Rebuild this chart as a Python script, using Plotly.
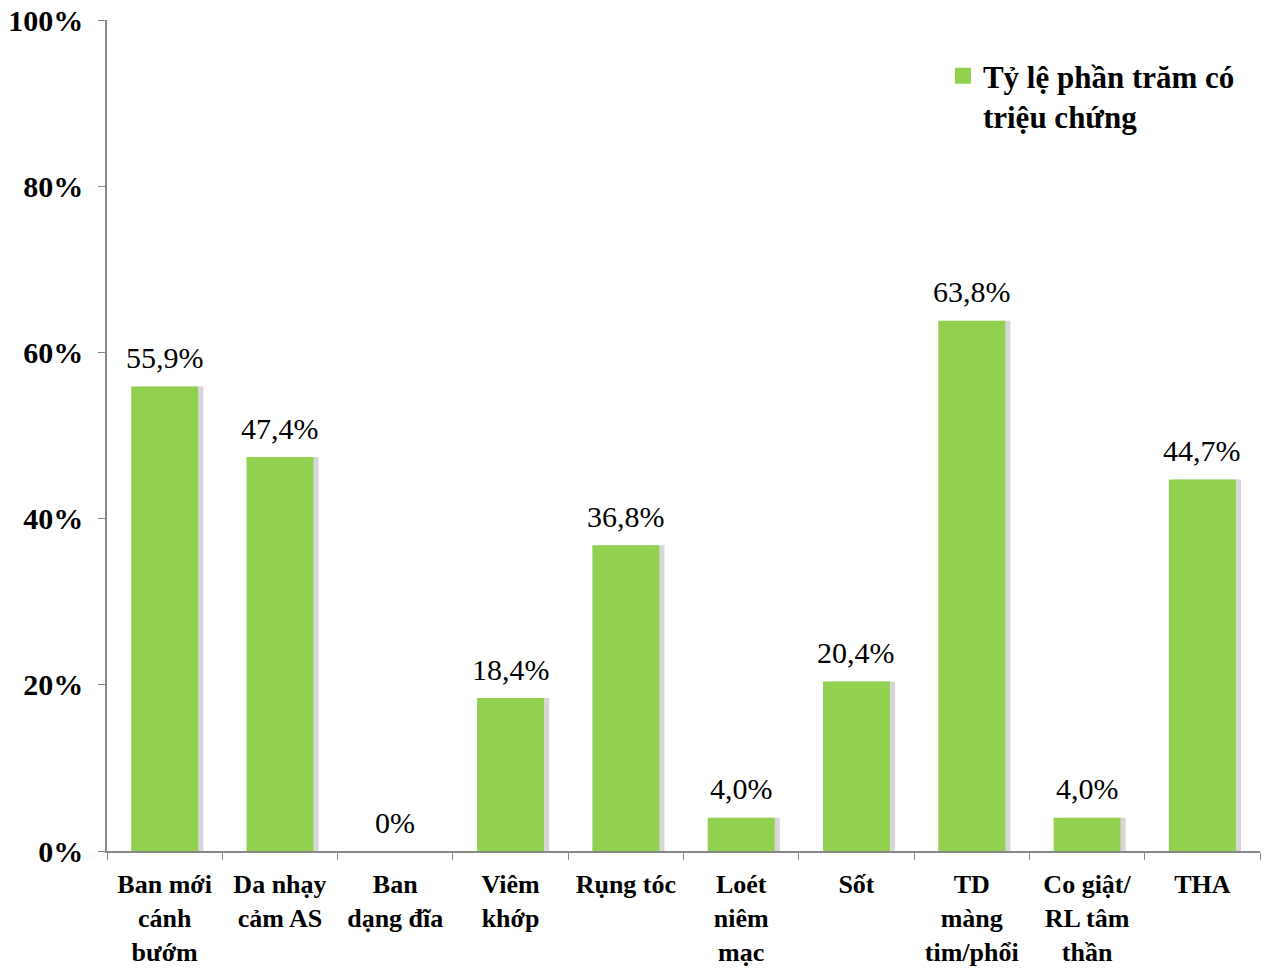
import plotly.graph_objects as go

categories = ["Ban mới<br>cánh<br>bướm", "Da nhạy<br>cảm AS", "Ban<br>dạng đĩa", "Viêm<br>khớp",
              "Rụng tóc", "Loét<br>niêm<br>mạc", "Sốt", "TD<br>màng<br>tim/phổi",
              "Co giật/<br>RL tâm<br>thần", "THA"]
values = [55.9, 47.4, 0, 18.4, 36.8, 4.0, 20.4, 63.8, 4.0, 44.7]
series_name = "Tỷ lệ phần trăm có<br>triệu chứng"
y_ticks = [0, 20, 40, 60, 80, 100]

def fmt(v):
    return "0%" if v == 0 else f"{v:.1f}%".replace(".", ",")

FONT = "Liberation Serif, Times New Roman, serif"
GREEN = "#92D050"

fig = go.Figure()
# soft shadow
fig.add_trace(go.Bar(x=categories, y=values, width=0.58, offset=-0.29 + 0.045,
                     marker=dict(color="rgba(0,0,0,0.16)", line_width=0),
                     showlegend=False, hoverinfo="skip"))
fig.add_trace(go.Bar(x=categories, y=values, width=0.58, offset=-0.29, name=series_name,
                     marker=dict(color=GREEN, line_width=0), showlegend=False))
# legend entry with a larger square swatch
fig.add_trace(go.Scatter(x=[None], y=[None], mode="markers", name=series_name,
                         marker=dict(symbol="square", size=16, color=GREEN)))

for c, v in zip(categories, values):
    fig.add_annotation(x=c, y=v, text=fmt(v), showarrow=False, yanchor="middle",
                       yshift=29, font=dict(family=FONT, size=30, color="black"))

fig.update_layout(
    width=1267, height=968, barmode="overlay",
    margin=dict(l=107, r=7, t=20, b=117, autoexpand=False),
    paper_bgcolor="white", plot_bgcolor="white",
    font=dict(family=FONT, size=28, color="black"),
    legend=dict(x=0.725, y=0.965, xanchor="left", yanchor="top", valign="top",
                font=dict(family=FONT, size=31, color="black", weight="bold"),
                bgcolor="rgba(0,0,0,0)", itemwidth=30, tracegroupgap=0),
    xaxis=dict(type="category", categoryorder="array", categoryarray=categories,
               range=[-0.5, 9.5],
               showline=True, linecolor="#888888", linewidth=1.5, ticks="outside",
               tickson="boundaries", ticklen=7, tickcolor="#888888", showgrid=False,
               tickfont=dict(family=FONT, size=26, color="black", weight="bold"),
               zeroline=False, automargin=False, ticklabelstandoff=9),
    yaxis=dict(range=[0, 100], tickvals=y_ticks, ticktext=[f"{t}%" for t in y_ticks],
               showline=True, linecolor="#888888", linewidth=1.5, ticks="outside",
               ticklen=7, tickcolor="#888888", showgrid=False, zeroline=False,
               tickfont=dict(family=FONT, size=30, color="black", weight="bold"),
               ticklabelstandoff=9, automargin=False),
)
fig.write_html("out.html")
